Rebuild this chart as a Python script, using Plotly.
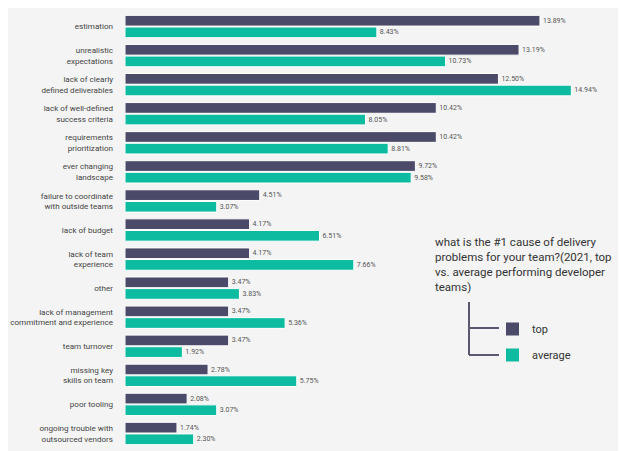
import plotly.graph_objects as go

categories = [
    "estimation",
    "unrealistic<br>expectations",
    "lack of clearly<br>defined deliverables",
    "lack of well-defined<br>success criteria",
    "requirements<br>prioritization",
    "ever changing<br>landscape",
    "failure to coordinate<br>with outside teams",
    "lack of budget",
    "lack of team<br>experience",
    "other",
    "lack of management<br>commitment and experience",
    "team turnover",
    "missing key<br>skills on team",
    "poor tooling",
    "ongoing trouble with<br>outsourced vendors",
]
top_values = [13.89, 13.19, 12.50, 10.42, 10.42, 9.72, 4.51, 4.17, 4.17, 3.47, 3.47, 3.47, 2.78, 2.08, 1.74]
avg_values = [8.43, 10.73, 14.94, 8.05, 8.81, 9.58, 3.07, 6.51, 7.66, 3.83, 5.36, 1.92, 5.75, 3.07, 2.30]
series_names = ["top", "average"]
colors = ["#4b4a68", "#0dbba1"]

OFF = 8  # page body margin
W, H = 626, 451
# plot area in screen pixels: x 125..603, y 12..448
L, T = 125 - OFF, 12 - OFF
R = W - (603 - OFF)
B = H - (448 - OFF)
pw, ph = W - L - R, H - T - B

def px(x):
    return (x - OFF - L) / pw

def py(y):
    return (H - B - (y - OFF)) / ph

fig = go.Figure()
for name, vals, col in zip(series_names, [top_values, avg_values], colors):
    fig.add_trace(go.Bar(
        y=categories, x=vals, orientation="h", name=name,
        marker=dict(color=col, line=dict(color="white", width=1)),
        text=[f"{v:.2f}%" for v in vals], textposition="outside",
        textfont=dict(size=7, color="#555555", family="Roboto"),
        cliponaxis=False, showlegend=False,
    ))

fig.update_layout(
    width=W, height=H,
    margin=dict(l=L, r=R, t=T, b=B, autoexpand=False),
    paper_bgcolor="#f4f4f4", plot_bgcolor="#f4f4f4",
    barmode="group", bargap=0.2, bargroupgap=0.08,
    font=dict(family="Roboto", color="#444444"),
    xaxis=dict(range=[0, 16], visible=False, showgrid=False, zeroline=False, automargin=False),
    yaxis=dict(autorange="reversed", showgrid=False, zeroline=False, showline=False, automargin=False,
               ticks="", ticklabelstandoff=11, tickfont=dict(size=8.1, color="#444444")),
)

fig.add_annotation(
    xref="paper", yref="paper", x=px(433), y=py(233), xanchor="left", yanchor="top",
    text="what is the #1 cause of delivery<br>problems for your team?(2021, top<br>vs. average performing developer<br>teams)",
    showarrow=False, align="left", font=dict(size=11.5, color="#333333", family="Roboto"),
)

lc = "#5a5870"
fig.add_shape(type="line", xref="paper", yref="paper", x0=px(469), x1=px(469), y0=py(302), y1=py(355), line=dict(color=lc, width=2))
fig.add_shape(type="line", xref="paper", yref="paper", x0=px(469), x1=px(499), y0=py(328), y1=py(328), line=dict(color=lc, width=2))
fig.add_shape(type="line", xref="paper", yref="paper", x0=px(469), x1=px(499), y0=py(355), y1=py(355), line=dict(color=lc, width=2))
for (yc, name, col) in [(329, series_names[0], colors[0]), (355, series_names[1], colors[1])]:
    fig.add_shape(type="rect", xref="paper", yref="paper", x0=px(506), x1=px(519), y0=py(yc - 6.5), y1=py(yc + 6.5),
                  fillcolor=col, line=dict(width=0))
    fig.add_annotation(xref="paper", yref="paper", x=px(530), y=py(yc), xanchor="left", yanchor="middle",
                       text=name, showarrow=False, font=dict(size=11, color="#333333", family="Roboto"))

fig.write_html("out.html")
